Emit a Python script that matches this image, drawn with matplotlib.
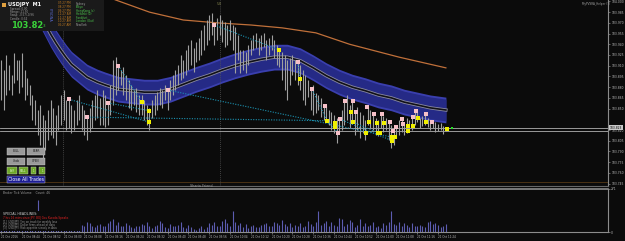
import numpy as np
import matplotlib

matplotlib.use("Agg")
import matplotlib.pyplot as plt
from matplotlib.patches import Rectangle
from matplotlib.transforms import blended_transform_factory

W, H = 625, 241
BG = "#0b0b0b"

# ── Price bars (USDJPY M1), one entry per minute ─────────────────────────────
bar_high = [
    103.918, 103.904, 103.925, 103.911, 103.897, 103.928, 103.918, 103.918, 103.928, 103.904,
    103.893, 103.883, 103.869, 103.862, 103.848, 103.855, 103.841, 103.834, 103.848, 103.862,
    103.851, 103.841, 103.855, 103.869, 103.876, 103.862, 103.863, 103.855, 103.848, 103.862,
    103.869, 103.855, 103.848, 103.838, 103.851, 103.862, 103.869, 103.876, 103.865, 103.876,
    103.869, 103.858, 103.883, 103.918, 103.922, 103.910, 103.904, 103.908, 103.897, 103.890,
    103.883, 103.876, 103.879, 103.869, 103.869, 103.862, 103.855, 103.851, 103.862, 103.869,
    103.873, 103.879, 103.876, 103.883, 103.876, 103.890, 103.897, 103.904, 103.911, 103.925,
    103.918, 103.932, 103.939, 103.946, 103.935, 103.943, 103.949, 103.960, 103.967, 103.974,
    103.981, 103.984, 103.967, 103.977, 103.981, 103.974, 103.971, 103.967, 103.974, 103.967,
    103.964, 103.953, 103.932, 103.932, 103.929, 103.939, 103.946, 103.953, 103.956, 103.949,
    103.953, 103.956, 103.946, 103.949, 103.953, 103.946, 103.939, 103.932, 103.929, 103.925,
    103.918, 103.921, 103.925, 103.918, 103.915, 103.911, 103.904, 103.897, 103.890, 103.877,
    103.883, 103.872, 103.869, 103.865, 103.854, 103.855, 103.848, 103.845, 103.841, 103.837,
    103.835, 103.848, 103.861, 103.869, 103.855, 103.861, 103.845, 103.852, 103.845, 103.841,
    103.834, 103.852, 103.848, 103.842, 103.837, 103.834, 103.842, 103.840, 103.837, 103.831,
    103.827, 103.823, 103.824, 103.834, 103.835, 103.828, 103.837, 103.834, 103.838, 103.847,
    103.845, 103.837, 103.840, 103.842, 103.837, 103.831, 103.834, 103.831, 103.828, 103.830,
    103.826, 103.823,
]
bar_low = [
    103.862, 103.848, 103.869, 103.876, 103.869, 103.886, 103.890, 103.872, 103.880, 103.862,
    103.869, 103.855, 103.834, 103.827, 103.813, 103.799, 103.778, 103.792, 103.806, 103.813,
    103.809, 103.799, 103.820, 103.827, 103.834, 103.820, 103.823, 103.816, 103.820, 103.827,
    103.834, 103.820, 103.813, 103.806, 103.817, 103.823, 103.834, 103.837, 103.827, 103.827,
    103.824, 103.827, 103.841, 103.855, 103.869, 103.876, 103.883, 103.869, 103.862, 103.851,
    103.848, 103.855, 103.845, 103.841, 103.841, 103.834, 103.827, 103.820, 103.837, 103.841,
    103.848, 103.855, 103.851, 103.862, 103.848, 103.862, 103.869, 103.876, 103.883, 103.890,
    103.893, 103.897, 103.904, 103.911, 103.901, 103.915, 103.918, 103.925, 103.932, 103.939,
    103.946, 103.953, 103.939, 103.946, 103.953, 103.943, 103.936, 103.939, 103.946, 103.932,
    103.900, 103.918, 103.900, 103.904, 103.900, 103.911, 103.925, 103.932, 103.935, 103.925,
    103.932, 103.936, 103.918, 103.925, 103.932, 103.921, 103.911, 103.908, 103.890, 103.876,
    103.862, 103.883, 103.897, 103.890, 103.883, 103.876, 103.862, 103.855, 103.866, 103.848,
    103.841, 103.844, 103.848, 103.838, 103.834, 103.833, 103.827, 103.820, 103.816, 103.802,
    103.816, 103.820, 103.827, 103.834, 103.823, 103.828, 103.813, 103.820, 103.809, 103.816,
    103.806, 103.827, 103.823, 103.820, 103.813, 103.812, 103.823, 103.817, 103.820, 103.806,
    103.795, 103.799, 103.809, 103.813, 103.817, 103.813, 103.816, 103.823, 103.820, 103.827,
    103.831, 103.823, 103.826, 103.827, 103.824, 103.820, 103.823, 103.817, 103.819, 103.820,
    103.814, 103.819,
]
tick_volume = [
    40, 55, 35, 60, 45, 30, 50, 70, 40, 55,
    65, 50, 80, 60, 200, 90, 70, 55, 60, 45,
    35, 50, 40, 30, 45, 55, 40, 35, 50, 60,
    75, 45, 40, 65, 55, 35, 30, 45, 50, 40,
    35, 55, 70, 80, 45, 60, 40, 35, 55, 45,
    30, 25, 40, 35, 50, 45, 60, 40, 25, 35,
    45, 70, 55, 30, 25, 50, 40, 35, 45, 60,
    30, 25, 45, 30, 20, 15, 25, 35, 20, 30,
    55, 45, 60, 40, 35, 70, 85, 55, 40, 135,
    60, 45, 55, 30, 50, 25, 35, 45, 30, 30,
    45, 50, 55, 40, 35, 60, 55, 45, 75, 50,
    40, 55, 30, 45, 35, 55, 30, 40, 70, 50,
    35, 60, 130, 45, 55, 70, 40, 65, 45, 35,
    90, 85, 40, 50, 75, 60, 30, 45, 85, 40,
    55, 35, 45, 60, 30, 40, 25, 55, 45, 65,
    130, 50, 45, 60, 40, 55, 45, 30, 55, 40,
    35, 45, 40, 30, 60, 70, 50, 55, 45, 30,
    40, 50,
]

# ── Envelope band (mid line), long MA ────────────────────────────────────────
band_idx = [9, 11, 13, 15, 17, 19, 21, 23, 25, 27, 30, 33, 37, 40, 45, 50, 55, 60, 65, 70,
            75, 80, 85, 90, 95, 100, 105, 110, 115, 120, 125, 130, 135, 140, 145, 150, 155,
            160, 165, 171]
band_mid = [104.030, 104.013, 103.998, 103.982, 103.968, 103.954, 103.942, 103.931, 103.921,
            103.912, 103.903, 103.894, 103.887, 103.883, 103.877, 103.875, 103.873, 103.873,
            103.877, 103.884, 103.891, 103.897, 103.904, 103.910, 103.915, 103.919, 103.922,
            103.922, 103.917, 103.907, 103.896, 103.887, 103.880, 103.875, 103.869, 103.865,
            103.859, 103.855, 103.851, 103.848]
band_half = 0.018

ma_idx = [40, 44, 57, 70, 83, 96, 108, 121, 134, 153, 171]
ma_val = [104.008, 104.002, 103.985, 103.974, 103.970, 103.967, 103.963, 103.956, 103.940,
          103.922, 103.907]

# ── Swing markers and dotted connecting lines ────────────────────────────────
pink_idx = [26, 33, 41, 45, 64, 82, 114, 119.5, 124.5, 129.5, 130.3, 132.2, 135.3, 136.4,
            140.7, 143.3, 146.4, 149.5, 150.7, 151.8, 154.1, 154.5, 158.4, 159.5, 163.3, 165.7]
pink_val = [103.863, 103.838, 103.858, 103.910, 103.876, 103.967, 103.915, 103.877, 103.854,
            103.816, 103.835, 103.861, 103.861, 103.845, 103.852, 103.842, 103.842, 103.831,
            103.819, 103.824, 103.835, 103.828, 103.838, 103.847, 103.842, 103.831]
yellow_idx = [54, 57, 57, 107, 115, 125.3, 128.4, 128.4, 134.5, 135.3, 140.3, 141.4, 144.5,
              145, 145.7, 147.2, 150.3, 151.4, 150.3, 156.4, 156.4, 158.4, 160.3, 163.3, 171.4]
yellow_val = [103.859, 103.847, 103.831, 103.932, 103.891, 103.833, 103.830, 103.824, 103.845,
              103.831, 103.816, 103.831, 103.830, 103.816, 103.816, 103.830, 103.810, 103.810,
              103.805, 103.826, 103.819, 103.826, 103.837, 103.831, 103.821]

seg_start_idx = [26, 41, 45, 33, 64, 82, 114, 119.5, 130.3, 125.3, 135.3]
seg_start_val = [103.863, 103.858, 103.910, 103.838, 103.876, 103.967, 103.915, 103.877,
                 103.835, 103.833, 103.831]
seg_end_idx = [57, 57, 54, 125.3, 150.3, 107, 115, 125.3, 150.3, 129.5, 145]
seg_end_val = [103.831, 103.847, 103.859, 103.833, 103.810, 103.932, 103.891, 103.833,
               103.805, 103.816, 103.816]

bid_price = 103.823
ask_price = 103.819

price_ticks = [103.745, 103.760, 103.775, 103.790, 103.805, 103.820, 103.850, 103.865,
               103.880, 103.895, 103.910, 103.925, 103.940, 103.955, 103.970, 103.985, 104.000]

time_idx = [0, 8, 16, 24, 32, 40, 48, 56, 64, 72, 80, 88, 96, 104, 112, 120, 128, 136,
            144, 152, 160, 168]
time_labels = ["21 Oct 2016", "21 Oct 08:44", "21 Oct 08:52", "21 Oct 09:00", "21 Oct 09:08",
               "21 Oct 09:16", "21 Oct 09:24", "21 Oct 09:32", "21 Oct 09:40", "21 Oct 09:48",
               "21 Oct 09:56", "21 Oct 10:04", "21 Oct 10:12", "21 Oct 10:20", "21 Oct 10:28",
               "21 Oct 10:36", "21 Oct 10:44", "21 Oct 10:52", "21 Oct 11:00", "21 Oct 11:08",
               "21 Oct 11:16", "21 Oct 11:24"]

sessions = ["Sydney", "Tokyo", "HongKong (c)", "Helsinki (0)", "Frankfurt", "London (Out)",
            "NewYork"]
session_times = ["07:27 PM", "08:27 PM", "09:27 PM", "11:27 AM", "11:27 AM", "10:27 AM",
                 "05:27 AM"]
session_colors = ["#a0a0a0", "#4cc44c", "#4cc44c", "#4cc44c", "#4cc44c", "#4cc44c", "#a0a0a0"]

GRID = "#8c8c8c"
TXT = "#bdbdbd"


def px_box(x0, y0, x1, y1):
    return [x0 / W, 1 - y1 / H, (x1 - x0) / W, (y1 - y0) / H]


XMIN, XMAX = -0.5, 233.35
fig = plt.figure(figsize=(W / 100, H / 100), dpi=100, facecolor=BG)

# ── Main price panel ─────────────────────────────────────────────────────────
ax = fig.add_axes(px_box(0, 0, 608, 186))
ax.set_facecolor(BG)
ax.set_xlim(XMIN, XMAX)
ax.set_ylim(103.7416, 104.002)

bx = np.array(band_idx)
bm = np.array(band_mid)
ax.fill_between(bx, bm - band_half, bm + band_half, color="#3a3fae", lw=0, zorder=1)
ax.fill_between(bx, bm - band_half * 0.85, bm + band_half * 0.85, color="#252a86", lw=0, zorder=1)
ax.plot(bx, bm, color="#8a8aa0", lw=2.4, zorder=2)
ax.plot(bx, bm, color="#111118", lw=1.2, zorder=2)

ax.plot(ma_idx, ma_val, color="#c0703a", lw=0.9, zorder=2)

x = np.arange(len(bar_high))
ax.vlines(x, bar_low, bar_high, color="#a0a0a0", lw=0.8, zorder=3)

for a, b, c, d in zip(seg_start_idx, seg_start_val, seg_end_idx, seg_end_val):
    ax.plot([a, c], [b, d], color="#1c93b2", lw=0.8, ls=(0, (1, 1.3)), zorder=4)

ax.plot(pink_idx, pink_val, "s", ms=2.2, color="#f6c0c8", mew=0, zorder=5)
ax.plot(yellow_idx, yellow_val, "s", ms=2.4, color="#f0f000", mew=0, zorder=5)
ax.plot([173.3], [bid_price], "s", ms=1.8, color="#20e020", mew=0, zorder=5)

ax.axhline(bid_price, color="#b0b0b0", lw=0.6, zorder=2)
ax.axhline(ask_price, color="#b0b0b0", lw=0.6, zorder=2)
ax.axhline(103.747, color="#4a3214", lw=0.7, zorder=1)
ax.axvline(23.7, color="#555555", lw=0.6, ls=(0, (1, 1.5)), zorder=1)
ax.axvline(84.1, color="#555555", lw=0.6, ls=(0, (1, 1.5)), zorder=1)

ax.yaxis.tick_right()
ax.set_yticks(price_ticks)
ax.set_yticklabels([f"{p:.3f}" for p in price_ticks])
ax.tick_params(axis="y", colors=GRID, labelcolor=TXT, labelsize=2.2, length=1.5, width=0.5, pad=0.8)
ax.set_xticks([])
for s in ["top", "left"]:
    ax.spines[s].set_visible(False)
ax.spines["right"].set_color(GRID)
ax.spines["bottom"].set_color("#666666")
ax.spines["right"].set_linewidth(0.8)

tr = blended_transform_factory(ax.transAxes, ax.transData)
ax.text(1.003, bid_price, "103.823", transform=tr, fontsize=2.2, color="#000000", va="center",
        ha="left", bbox=dict(boxstyle="square,pad=0.2", fc="#c8c8c8", ec="none"), clip_on=False)

# ── Tick volume panel ────────────────────────────────────────────────────────
vax = fig.add_axes(px_box(0, 189, 608, 232))
vax.set_facecolor(BG)
vax.set_xlim(XMIN, XMAX)
vax.set_ylim(0, 271)
vax.vlines(x, 0, tick_volume, color="#5c5cb0", lw=0.8)
vax.yaxis.tick_right()
vax.set_yticks([0, 271])
vax.set_yticklabels(["0", "271"])
vax.tick_params(axis="y", colors=GRID, labelcolor=TXT, labelsize=2.2, length=1.5, width=0.5, pad=0.8)
vax.set_xticks(time_idx)
vax.set_xticklabels(time_labels, ha="left")
vax.tick_params(axis="x", colors=GRID, labelcolor=TXT, labelsize=2.0, length=1.5, width=0.5, pad=1)
vax.spines["left"].set_visible(False)
for s in ["top", "right", "bottom"]:
    vax.spines[s].set_color(GRID)
vax.spines["top"].set_linewidth(1.2)

# ── Overlay: info panel, buttons, headlines ──────────────────────────────────
ov = fig.add_axes([0, 0, 1, 1], zorder=10)
ov.set_xlim(0, W)
ov.set_ylim(H, 0)
ov.axis("off")
ov.patch.set_alpha(0)

ov.add_patch(Rectangle((0, 0), 104, 31, fc="#1a1a1a", ec="none"))
ov.text(8, 4.5, "USDJPY  M1", fontsize=3.6, color="white", weight="bold", va="center")
ov.add_patch(Rectangle((2, 2.5), 4, 4, fc="#e0a040", ec="none"))
info = ["Spread: 0.00", "Range: 21.50", "Swap: -0.57/-0.96", "Candle: 0:34"]
for k, t in enumerate(info):
    ov.text(10, 9 + 3.2 * k, t, fontsize=2.0, color="#9a9a9a", va="center")
ov.text(11, 25, "103.82", fontsize=6, color="#3ad23a", weight="bold", va="center")
ov.text(43, 26, "3", fontsize=3, color="#3ad23a", va="center")
ov.text(50, 15, "PYSDNA", fontsize=2.4, color="#5a6ad0", rotation=-90, va="center", ha="center")
for k, (tm, nm, c) in enumerate(zip(session_times, sessions, session_colors)):
    ov.text(58, 3.5 + 3.6 * k, tm, fontsize=2.0, color="#c07a20", va="center")
    ov.text(76, 3.5 + 3.6 * k, nm, fontsize=2.0, color=c, va="center")
ov.text(582, 3.5, "MyPVSRA_Helper (?)", fontsize=2.0, color="#a0a0a0", va="center")
ov.text(217, 4, "5.8", fontsize=2.2, color="#8a8a50", va="center")

buttons = [((7, 148, 18, 7), "BULL", "#9a9a9a", "#202020"),
           ((27, 148, 18, 7), "BEAR", "#9a9a9a", "#202020"),
           ((7, 158, 18, 7), "Undo", "#9a9a9a", "#202020"),
           ((27, 158, 18, 7), "OPEN", "#9a9a9a", "#202020"),
           ((7, 167, 10, 7), "BUY", "#6ea828", "#e8ffe0"),
           ((19, 167, 9, 7), "SELL", "#6ea828", "#e8ffe0"),
           ((31, 167, 5, 7), "1", "#6ea828", "#e8ffe0"),
           ((39, 167, 6, 7), "1", "#6ea828", "#e8ffe0"),
           ((7, 176, 38, 7), "Close All Trades", "#1c1c96", "#ffffff")]
for (bx0, by0, bw, bh), lab, fc, tc in buttons:
    ov.add_patch(Rectangle((bx0, by0), bw, bh, fc=fc, ec="#cfcfcf", lw=0.3))
    if lab == "Close All Trades":
        fs = 3.3
    elif len(lab) > 3:
        fs = 2.0
    else:
        fs = 1.8
    ov.text(bx0 + bw / 2, by0 + bh / 2, lab, fontsize=fs, color=tc, ha="center", va="center")

ov.text(190, 186, "Sharia Friend", fontsize=2.4, color="#a0a0a0", va="center")
ov.text(3, 192.5, "Broker Tick Volume    Count: 46", fontsize=2.2, color="#9a9a9a", va="center")

ov.add_patch(Rectangle((0, 211), 80, 20, fc=BG, ec="none"))
ov.text(3, 214, "SPECIAL HEADLINES:", fontsize=2.3, color="#d0d0d0", va="center")
ov.text(3, 218, "7 hrs 16 mins since JPY: BOJ Gov Kuroda Speaks", fontsize=2.0, color="#e02020",
        va="center")
heads = ["[1]  USD/JPY: Yen on track for weekly loss", "[2]  USD/JPY: Dollar firms ahead of data",
         "[3]  USD/JPY: Risk appetite steady in Asia"]
for k, t in enumerate(heads):
    ov.text(3, 222 + 3.0 * k, t, fontsize=1.9, color="#9a9a9a", va="center")

fig.savefig("out.png", dpi=100, facecolor=BG)
